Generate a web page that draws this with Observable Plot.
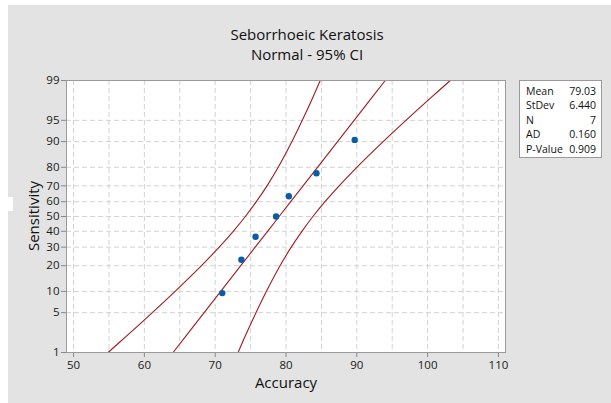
<!DOCTYPE html>
<html>
<head>
<meta charset="utf-8">
<script src="https://cdn.jsdelivr.net/npm/d3@7"></script>
<script src="https://cdn.jsdelivr.net/npm/@observablehq/plot@0.6"></script>
<style>
  body { margin: 0; background: #fff; }
  #wrap { position: relative; width: 611px; height: 403px; overflow: hidden; background: #fff; font-family: "Open Sans", "Noto Sans", sans-serif; color: #111; }
  .abs { position: absolute; }
  .ttl { position: absolute; left: 207px; width: 200px; text-align: center; font-size: 15px; line-height: 16px; white-space: nowrap; }
  #legend { position: absolute; left: 519px; top: 80px; width: 83px; height: 78px; background: #fff; border: 1px solid #9a9a9a; font-size: 10.5px; padding: 2.5px 5px 0 6px; box-sizing: border-box; line-height: 14.5px; }
  #legend .row { display: flex; justify-content: space-between; }
</style>
</head>
<body>
<div id="wrap">
  <div class="abs" style="left:8px;top:5px;right:0;bottom:0;background:#e3e3e3"></div>
  <div class="abs" style="left:0;top:197px;width:13px;height:14px;background:#fff"></div>
  <div id="chart" class="abs" style="left:0;top:0"></div>
  <div class="ttl" id="t1" style="top:26px;"></div>
  <div class="ttl" id="t2" style="top:46px;"></div>
  <div class="abs" id="xl" style="left:186px;width:200px;text-align:center;top:372px;font-size:15px;"></div>
  <div class="abs" id="yl" style="left:33px;top:216px;font-size:15px;transform:translate(-50%,-50%) rotate(-90deg);white-space:nowrap;"></div>
  <div id="legend"></div>
</div>
<script>
// ---- data ----
const title = "Seborrhoeic Keratosis";
const subtitle = "Normal - 95% CI";
const xLabel = "Accuracy";
const yLabel = "Sensitivity";

// observed points (Accuracy, Sensitivity percent)
const obsX = [71.0, 73.7, 75.7, 78.6, 80.4, 84.3, 89.7];
const obsPct = [9.5, 23.0, 36.5, 50.0, 63.5, 77.0, 90.5];

// fitted line and 95% CI band, sampled at these percents
const curvePct = [1, 2, 5, 10, 20, 30, 40, 50, 60, 70, 80, 90, 95, 98, 99];
const fitX   = [64.05, 65.80, 68.44, 70.78, 73.61, 75.65, 77.40, 79.03, 80.66, 82.41, 84.45, 87.28, 89.62, 92.26, 94.01];
const lowerX = [54.87, 57.39, 61.12, 64.34, 68.06, 70.56, 72.55, 74.26, 75.81, 77.32, 78.90, 80.84, 82.30, 83.85, 84.83];
const upperX = [73.24, 74.21, 75.76, 77.22, 79.16, 80.74, 82.25, 83.80, 85.51, 87.50, 90.00, 93.72, 96.94, 100.67, 103.20];

const yTicks = [1, 5, 10, 20, 30, 40, 50, 60, 70, 80, 90, 95, 99];
const xTicks = [50, 60, 70, 80, 90, 100, 110];
const xGrid = [50, 55, 60, 65, 70, 75, 80, 85, 90, 95, 100, 105, 110];

const statLabels = ["Mean", "StDev", "N", "AD", "P-Value"];
const statValues = ["79.03", "6.440", "7", "0.160", "0.909"];

// ---- normal probability (probit) transform ----
function probit(pct) {
  const p = pct / 100;
  const a = [-3.969683028665376e+01, 2.209460984245205e+02, -2.759285104469687e+02, 1.383577518672690e+02, -3.066479806614716e+01, 2.506628277459239e+00];
  const b = [-5.447609879822406e+01, 1.615858368580409e+02, -1.556989798598866e+02, 6.680131188771972e+01, -1.328068155288572e+01];
  const c = [-7.784894002430293e-03, -3.223964580411365e-01, -2.400758277161838e+00, -2.549671010394340e+00, 4.374664141464968e+00, 2.938163982698783e+00];
  const d = [7.784695709041462e-03, 3.224671290700398e-01, 2.445134137142996e+00, 3.754408661907416e+00];
  const pl = 0.02425, ph = 1 - pl;
  let q, r;
  if (p < pl) {
    q = Math.sqrt(-2 * Math.log(p));
    return (((((c[0]*q+c[1])*q+c[2])*q+c[3])*q+c[4])*q+c[5]) / ((((d[0]*q+d[1])*q+d[2])*q+d[3])*q+1);
  } else if (p <= ph) {
    q = p - 0.5; r = q * q;
    return (((((a[0]*r+a[1])*r+a[2])*r+a[3])*r+a[4])*r+a[5])*q / (((((b[0]*r+b[1])*r+b[2])*r+b[3])*r+b[4])*r+1);
  } else {
    q = Math.sqrt(-2 * Math.log(1 - p));
    return -(((((c[0]*q+c[1])*q+c[2])*q+c[3])*q+c[4])*q+c[5]) / ((((d[0]*q+d[1])*q+d[2])*q+d[3])*q+1);
  }
}

const curves = curvePct.map((p, i) => ({z: probit(p), fit: fitX[i], lo: lowerX[i], hi: upperX[i]}));
const points = obsX.map((x, i) => ({x, z: probit(obsPct[i])}));
const zTicks = yTicks.map(probit);
const zMin = probit(1), zMax = probit(99);

const lineColor = "#9e1c20";
const gridStyle = {stroke: "#d2d2d2", strokeDasharray: "5,3", strokeWidth: 1};

const chart = Plot.plot({
  width: 611,
  height: 403,
  marginLeft: 66,
  marginRight: 106,
  marginTop: 80,
  marginBottom: 51,
  style: {background: "transparent", fontFamily: "'Open Sans', 'Noto Sans', sans-serif", fontSize: "11.5px", color: "#1a1a1a", overflow: "visible"},
  x: {domain: [49, 111], ticks: xTicks, tickSize: 5, tickPadding: 3, label: null},
  y: {domain: [zMin, zMax], ticks: zTicks, tickSize: 5, tickPadding: 2, label: null,
      tickFormat: z => { const i = zTicks.findIndex(t => Math.abs(t - z) < 1e-9); return i >= 0 ? String(yTicks[i]) : ""; }},
  marks: [
    Plot.frame({fill: "white", stroke: null}),
    Plot.ruleX(xGrid, {...gridStyle}),
    Plot.ruleY(zTicks, {...gridStyle}),
    Plot.line(curves, {x: "lo", y: "z", stroke: lineColor, strokeWidth: 1.1, curve: "catmull-rom"}),
    Plot.line(curves, {x: "fit", y: "z", stroke: lineColor, strokeWidth: 1.1}),
    Plot.line(curves, {x: "hi", y: "z", stroke: lineColor, strokeWidth: 1.1, curve: "catmull-rom"}),
    Plot.dot(points, {x: "x", y: "z", r: 3.2, fill: "#0b5ca8", stroke: null}),
    Plot.frame({stroke: "#9a9a9a", strokeWidth: 1})
  ]
});
chart.querySelectorAll("[aria-label='x-axis tick'] path, [aria-label='y-axis tick'] path, g[aria-label='x-axis'] path, g[aria-label='y-axis'] path").forEach(p => p.setAttribute("stroke", "#888"));
document.getElementById("chart").appendChild(chart);

document.getElementById("t1").textContent = title;
document.getElementById("t2").textContent = subtitle;
document.getElementById("xl").textContent = xLabel;
document.getElementById("yl").textContent = yLabel;
const lg = document.getElementById("legend");
statLabels.forEach((l, i) => {
  const row = document.createElement("div");
  row.className = "row";
  const a = document.createElement("span"); a.textContent = l;
  const b = document.createElement("span"); b.textContent = statValues[i];
  row.appendChild(a); row.appendChild(b);
  lg.appendChild(row);
});
</script>
</body>
</html>
